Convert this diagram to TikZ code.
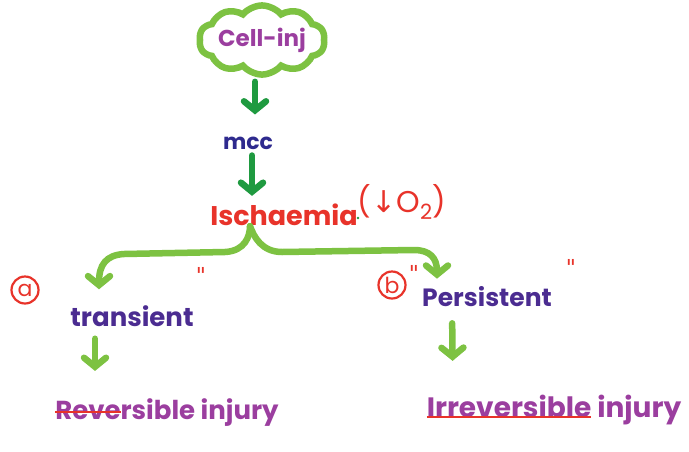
\documentclass[tikz,border=0pt]{standalone}
\usepackage{fontspec}
\setmainfont{Poppins}
\newfontfamily\dvs{DejaVu Sans}
\usetikzlibrary{shapes.symbols,arrows.meta}
\definecolor{lgreen}{HTML}{7DC242}
\definecolor{dgreen}{HTML}{1F9A40}
\definecolor{plum}{HTML}{9B3E9F}
\definecolor{navy}{HTML}{2E2A8E}
\definecolor{indigo}{HTML}{4B2C91}
\definecolor{hred}{HTML}{E8332A}
\newsavebox\mysbx
\newcommand\mystrike[1]{\sbox\mysbx{#1}\usebox\mysbx\llap{\textcolor{hred}{\rule[0.26em]{\wd\mysbx}{2.4pt}}}}
\newcommand\myunder[1]{\sbox\mysbx{#1}\usebox\mysbx\llap{\textcolor{hred}{\rule[-0.02em]{\wd\mysbx}{2.4pt}}}}
\tikzset{
  txt/.style={inner sep=0pt, font=\fontsize{#1}{#1}\selectfont\bfseries},
  darr/.style={draw=dgreen, line width=6.5pt, line cap=round, -{Straight Barb[length=9pt,width=22pt,line cap=round]}},
  larr/.style={draw=lgreen, line width=6.5pt, line cap=round, -{Straight Barb[length=9pt,width=22pt,line cap=round]}},
  circ/.style={circle, draw=hred, line width=2.2pt, text=hred, inner sep=0pt, minimum size=27pt, font=\fontsize{22}{22}\selectfont},
  ditto/.style={text=hred, inner sep=0pt, font=\fontsize{22}{22}\selectfont\dvs}
}
\begin{document}
\begin{tikzpicture}[x=1pt,y=-1pt]
\useasboundingbox (0,0) rectangle (689,451);
\fill[white] (0,0) rectangle (689,451);
\node[cloud, draw=lgreen, line width=6.5pt, cloud puffs=10, cloud puff arc=100, aspect=2.3,
      minimum width=122pt, minimum height=58pt, inner sep=0pt, text=plum,
      font=\fontsize{23}{23}\selectfont\bfseries] (cell) at (262,40) {Cell-inj};
\node[txt=22, text=navy] (mcc) at (248,143) {mcc};
\node[txt=27, text=hred] (isch) at (284,215) {Ischaemia};
\node[text=hred, inner sep=0pt, font=\fontsize{30}{30}\selectfont] (o2) at (402,202) {({\dvs\fontsize{30}{30}\selectfont ↓}O\textsubscript{2})};
\fill[dgreen] (358,218) circle (1.3);
\node[txt=26, text=indigo] (trans) at (132,316) {transient};
\node[txt=25, text=indigo] (pers) at (487,297) {Persistent};
\node[txt=26, text=plum] (rev) at (167,413) {\mystrike{Reve}rsible injury};
\node[txt=28, text=plum] (irr) at (554,410) {\myunder{Irreversible} injury};
\node[circ] (ca) at (25,290) {a};
\node[circ] (cb) at (392,285) {b};
\node[ditto] (d1) at (201,275) {"};
\node[ditto] (d2) at (414,273) {"};
\node[ditto] (d3) at (571,267) {"};
\coordinate (tip) at ([xshift=-34pt]isch.south);
% arrows
\draw[darr, shorten <=4pt, shorten >=22pt] ([xshift=-7pt]cell.south) -- ([xshift=7pt]mcc.north);
\draw[darr, shorten <=6pt, shorten >=8pt] ([xshift=4pt]mcc.south) -- ([xshift=-32pt]isch.north);
\draw[larr] (tip) .. controls ++(0,10) and (245,251) .. (225,252) -- (124,254)
  .. controls (106,255) and (99,265) .. ([xshift=-33pt,yshift=16pt]trans.north);
\draw[larr] (tip) .. controls ++(4,11) and (262,252) .. (282,252) -- (414,250)
  .. controls (430,250) and (437,258) .. ([xshift=-50pt,yshift=8pt]pers.north);
\draw[larr, shorten <=12pt, shorten >=28pt] ([xshift=-37pt]trans.south) -- ([xshift=-72pt]rev.north);
\draw[larr, shorten <=16pt, shorten >=34pt] ([xshift=-35pt]pers.south) -- ([xshift=-101pt]irr.north);
\end{tikzpicture}
\end{document}
